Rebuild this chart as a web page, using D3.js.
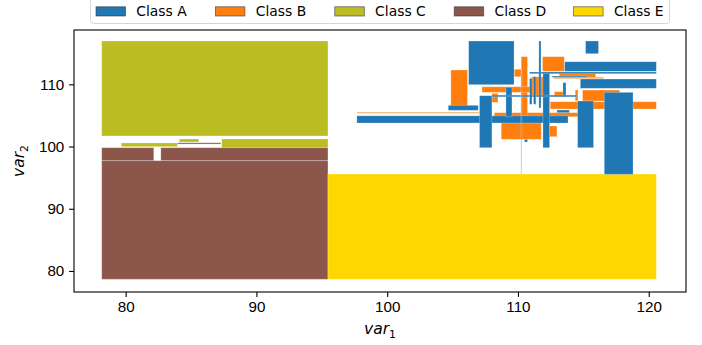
<!DOCTYPE html>
<html>
<head>
<meta charset="utf-8">
<script src="https://cdn.jsdelivr.net/npm/d3@7/dist/d3.min.js"></script>
<style>
  body { margin: 0; background: #fff; }
  svg { display: block; font-family: "DejaVu Sans", sans-serif; }
  .axis text { font-size: 15.2px; fill: #000; }
  .axis line { stroke: #000; stroke-width: 1.1; }
  .axis .domain { display: none; }
  .legend text { font-size: 13.9px; fill: #000; }
</style>
</head>
<body>
<svg id="chart"></svg>
<script>
// classes and colours
const classes = ['Class A', 'Class B', 'Class C', 'Class D', 'Class E'];
const classColors = ['#1f77b4', '#ff7f0e', '#bcbd22', '#8c564b', '#ffd700'];

// boxes per class as [x0, x1, y0, y1] in data units
const boxesC = [
  [78.17, 95.47, 101.70, 116.96],
  [87.35, 95.47, 99.81, 101.21],
  [79.67, 83.96, 99.98, 100.57],
  [84.11, 85.59, 100.73, 101.21]
];
const boxesD = [
  [78.17, 82.15, 97.72, 99.81],
  [82.69, 95.47, 97.72, 99.81],
  [78.17, 95.47, 78.66, 97.72],
  [83.96, 87.28, 100.40, 100.60]
];
const boxesE = [
  [95.47, 120.58, 78.66, 95.58]
];
const boxesB = [
  [104.87, 106.14, 106.51, 112.30],
  [97.68, 107.05, 105.35, 105.50],
  [108.19, 114.69, 104.79, 105.44],
  [108.72, 111.78, 101.16, 103.83],
  [112.42, 112.98, 101.58, 103.30],
  [112.47, 120.58, 106.03, 107.20],
  [114.94, 117.78, 107.32, 109.08],
  [111.88, 113.54, 112.09, 114.44],
  [113.16, 115.94, 111.13, 111.77],
  [112.73, 116.55, 110.92, 111.13],
  [112.78, 113.62, 108.00, 108.81],
  [114.38, 114.59, 107.36, 109.08],
  [110.25, 110.73, 104.79, 114.44],
  [109.72, 110.25, 111.22, 112.41],
  [107.25, 111.07, 108.71, 109.61],
  [108.01, 108.47, 107.10, 108.55],
  [111.04, 111.94, 108.00, 111.22]
];
const boxesA = [
  [106.23, 109.70, 109.94, 116.96],
  [104.67, 106.96, 105.82, 106.62],
  [97.68, 113.83, 103.78, 104.94],
  [107.06, 108.01, 99.81, 108.17],
  [111.91, 112.42, 99.81, 111.86],
  [110.50, 110.73, 100.73, 101.16],
  [114.56, 115.78, 99.81, 107.32],
  [116.60, 118.80, 95.53, 108.71],
  [113.57, 120.58, 112.09, 113.63],
  [110.89, 120.58, 111.70, 111.98],
  [115.17, 116.16, 114.92, 116.96],
  [114.77, 120.58, 109.36, 110.85],
  [112.60, 115.28, 111.13, 111.33],
  [113.44, 113.67, 108.00, 110.26],
  [112.98, 113.93, 105.44, 105.87],
  [109.08, 109.54, 104.79, 109.52],
  [108.01, 114.51, 107.99, 108.26],
  [110.89, 111.07, 106.79, 110.96],
  [111.19, 111.37, 106.79, 111.22],
  [111.60, 111.76, 106.20, 116.96],
  [110.22, 110.30, 95.58, 111.82]
];

const xTicks = [80, 90, 100, 110, 120];
const yTicks = [80, 90, 100, 110];

// drawing order: C, D, E first, then B, then A on top
const layers = [
  {cls: 2, boxes: boxesC},
  {cls: 3, boxes: boxesD},
  {cls: 4, boxes: boxesE},
  {cls: 1, boxes: boxesB},
  {cls: 0, boxes: boxesA}
];

const config = {
  width: 702,
  height: 345,
  margin: {top: 30, right: 16, bottom: 53, left: 74}
};

const innerW = config.width - config.margin.left - config.margin.right;
const innerH = config.height - config.margin.top - config.margin.bottom;

const svg = d3.select('#chart')
    .attr('width', config.width)
    .attr('height', config.height);

const chart = svg.append('g')
    .attr('transform', `translate(${config.margin.left},${config.margin.top})`);

const xScale = d3.scaleLinear().domain([76.05, 122.85]).range([0, innerW]);
const yScale = d3.scaleLinear().domain([76.62, 118.73]).range([innerH, 0]);
const colorScale = d3.scaleOrdinal().domain(d3.range(classes.length)).range(classColors);

// boxes (hairline boxes come out faint, as antialiased in the original)
layers.forEach(layer => {
  chart.append('g')
    .selectAll('rect')
    .data(layer.boxes)
    .join('rect')
      .attr('x', d => xScale(d[0]))
      .attr('width', d => xScale(d[1]) - xScale(d[0]))
      .attr('y', d => yScale(d[3]))
      .attr('height', d => yScale(d[2]) - yScale(d[3]))
      .attr('fill', colorScale(layer.cls))
      .attr('fill-opacity', d => (xScale(d[1]) - xScale(d[0]) < 1.5) ? 0.4 : 1)
      .attr('stroke', '#fff')
      .attr('stroke-opacity', 0.3)
      .attr('stroke-width', 0.8);
});

// axes
const xAxis = d3.axisBottom(xScale).tickValues(xTicks).tickSize(4.9).tickPadding(4.5).tickSizeOuter(0);
const yAxis = d3.axisLeft(yScale).tickValues(yTicks).tickSize(4.9).tickPadding(4.8).tickSizeOuter(0);

chart.append('g')
    .attr('class', 'axis x-axis')
    .attr('transform', `translate(0,${innerH})`)
    .call(xAxis);

chart.append('g')
    .attr('class', 'axis y-axis')
    .call(yAxis);

// frame
chart.append('rect')
    .attr('width', innerW)
    .attr('height', innerH)
    .attr('fill', 'none')
    .attr('stroke', '#000')
    .attr('stroke-width', 1.1);

// axis titles
const xt = svg.append('text')
    .attr('x', config.margin.left + innerW / 2)
    .attr('y', 334)
    .attr('text-anchor', 'middle')
    .style('font-size', '15.5px');
xt.append('tspan').style('font-style', 'italic').text('var');
xt.append('tspan').attr('dy', 3.5).style('font-size', '10.8px').text('1');

const yt = svg.append('text')
    .attr('transform', `translate(24,${config.margin.top + innerH / 2}) rotate(-90)`)
    .attr('text-anchor', 'middle')
    .style('font-size', '15.5px');
yt.append('tspan').style('font-style', 'italic').text('var');
yt.append('tspan').attr('dy', 3.5).style('font-size', '10.8px').text('2');

// legend
const legend = svg.append('g').attr('class', 'legend');
legend.append('rect')
    .attr('x', 90.5)
    .attr('y', -6)
    .attr('width', 579)
    .attr('height', 29.5)
    .attr('rx', 3)
    .attr('fill', '#fff')
    .attr('stroke', '#d6d6d6')
    .attr('stroke-width', 1);

const items = legend.selectAll('g.item')
    .data(classes)
    .join('g')
      .attr('class', 'item')
      .attr('transform', (d, i) => `translate(${96 + i * 119.4},0)`);

items.append('rect')
    .attr('x', 0)
    .attr('y', 6.8)
    .attr('width', 29.5)
    .attr('height', 9.2)
    .attr('fill', (d, i) => colorScale(i))
    .attr('stroke', '#333')
    .attr('stroke-opacity', 0.7)
    .attr('stroke-width', 0.8);

items.append('text')
    .attr('x', 40.3)
    .attr('y', 16.3)
    .text(d => d);
</script>
</body>
</html>
